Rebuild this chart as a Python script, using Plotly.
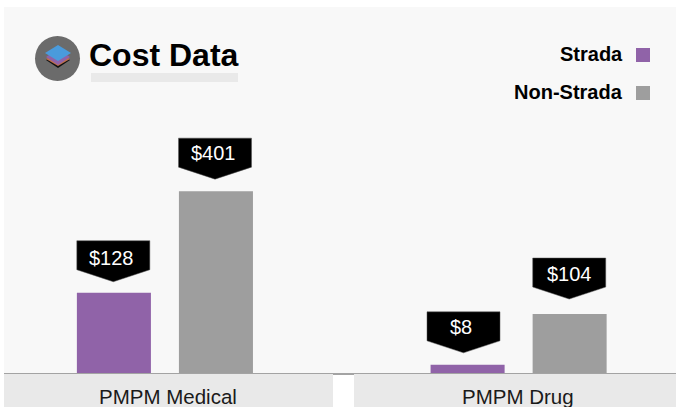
import plotly.graph_objects as go

# Categories and series
categories = ["PMPM Medical", "PMPM Drug"]
series_names = ["Strada", "Non-Strada"]
# Printed values
strada_labels = ["$128", "$8"]
non_strada_labels = ["$401", "$104"]
# Bar heights (the source bars are not proportional to the printed values)
strada_heights = [177, 18]
non_strada_heights = [401, 130]

PURPLE = "#9063a8"
GREY = "#9e9e9e"
PANEL = "#f8f8f8"
BAND = "#e9e9e9"
FONT = "Liberation Sans, Arial, sans-serif"

fig = go.Figure()
fig.add_bar(name=series_names[0], x=categories, y=strada_heights, marker_color=PURPLE, marker_line_width=0)
fig.add_bar(name=series_names[1], x=categories, y=non_strada_heights, marker_color=GREY, marker_line_width=0)

shapes = []
annos = []
OFF = 0.1445

def callout(cx, val, text, gap, dx, tdx, tdy):
    # pentagon hanging above a bar, sized in pixels and anchored to the bar's data position
    b = gap
    hw = 36.5
    path = (f"M {dx-hw},{b+12} L {dx-hw},{b+41} L {dx+hw},{b+41} L {dx+hw},{b+12} L {dx},{b} Z")
    shapes.append(dict(type="path", xref="x", yref="y", xsizemode="pixel", ysizemode="pixel",
                       xanchor=cx, yanchor=val, path=path, fillcolor="#000000",
                       line=dict(color="#555555", width=0.5), layer="above"))
    annos.append(dict(x=cx, y=val, xref="x", yref="y", text=text, showarrow=False,
                      xshift=tdx, yshift=tdy, font=dict(family=FONT, size=20, color="#ffffff")))

gaps_s = [11, 12]
gaps_n = [12, 15]
dx_s = [-0.5, -4]
dx_n = [-1, -0.5]
tdx_s = [-2, -7]
tdx_n = [-2.5, 0]
tdy_s = [35, 38]
tdy_n = [38, 40.5]
for i in range(2):
    callout(i - OFF, strada_heights[i], strada_labels[i], gaps_s[i], dx_s[i], tdx_s[i], tdy_s[i])
    callout(i + OFF, non_strada_heights[i], non_strada_labels[i], gaps_n[i], dx_n[i], tdx_n[i], tdy_n[i])

def px(x0, y0, x1, y1, color, kind="rect", layer="above"):
    return dict(type=kind, xref="paper", yref="paper",
                x0=(x0 - 4) / 672, x1=(x1 - 4) / 672,
                y0=(373 - y0) / 366, y1=(373 - y1) / 366,
                fillcolor=color, line_width=0, layer=layer)

def poly(points, color):
    d = "M " + " L ".join(f"{(x-4)/672},{(373-y)/366}" for x, y in points) + " Z"
    return dict(type="path", xref="paper", yref="paper", path=d, fillcolor=color, line_width=0, layer="above")

# category bands, white gap, base line
shapes += [px(4, 374, 333, 407, BAND, layer="below"), px(354, 374, 676, 407, BAND, layer="below"),
           px(333, 375, 354, 407, "#ffffff", layer="below"),
           px(4, 373, 676, 374, "#a3a3a3"), px(333, 374, 354, 375, "#a3a3a3")]
# title underline
shapes.append(px(91, 73, 238, 82, "#e9e9e9"))
# logo
shapes.append(px(35, 36, 80, 81, "#6b6b6b", "circle"))
shapes.append(poly([(46, 60), (58, 52), (70, 60), (58, 68)], "#111111"))
shapes.append(poly([(46, 59), (58, 52), (70, 59), (58, 66)], "#c0704a"))
shapes.append(poly([(46, 57), (58, 49), (70, 57), (58, 65)], "#8e62a8"))
shapes.append(poly([(45, 53), (58, 45), (71, 53), (58, 61)], "#4a9bdc"))
# legend swatches
shapes.append(px(636, 48, 650, 62, PURPLE))
shapes.append(px(636, 86, 650, 100, GREY))

def text_at(x, y, text, size, anchor, bold=True):
    annos.append(dict(xref="paper", yref="paper", x=(x - 4) / 672, y=(373 - y) / 366, text=f"<b>{text}</b>" if bold else text,
                      showarrow=False, xanchor=anchor, yanchor="middle",
                      font=dict(family=FONT, size=size, color="#000000"), xshift=0))

text_at(87, 55, "Cost Data", 32, "left")
text_at(625, 54, series_names[0], 20, "right")
text_at(625, 92, series_names[1], 20, "right")

# category labels placed under the bands, centred as in the source
label_dx = [3, -1]
for i, c in enumerate(categories):
    annos.append(dict(x=i, xref="x", y=0, yref="y", text=c, showarrow=False, yanchor="top",
                      xshift=label_dx[i], yshift=-9.5, font=dict(family=FONT, size=20.5, color="#1a1a1a")))

fig.update_layout(
    width=676, height=407, autosize=False,
    margin=dict(l=4, r=0, t=7, b=34),
    paper_bgcolor="#ffffff", plot_bgcolor=PANEL,
    barmode="group", bargap=0.423, bargroupgap=0.2745,
    showlegend=False, shapes=shapes, annotations=annos,
    xaxis=dict(type="category", categoryorder="array", categoryarray=categories,
               range=[-0.455, 1.445], showgrid=False, zeroline=False, showline=False, ticks="",
               showticklabels=False),
    yaxis=dict(range=[0, 807], visible=False, showgrid=False, zeroline=False),
    font=dict(family=FONT),
)
fig.write_html("out.html", config=dict(displayModeBar=False),
               post_script="document.body.style.margin='0';")
